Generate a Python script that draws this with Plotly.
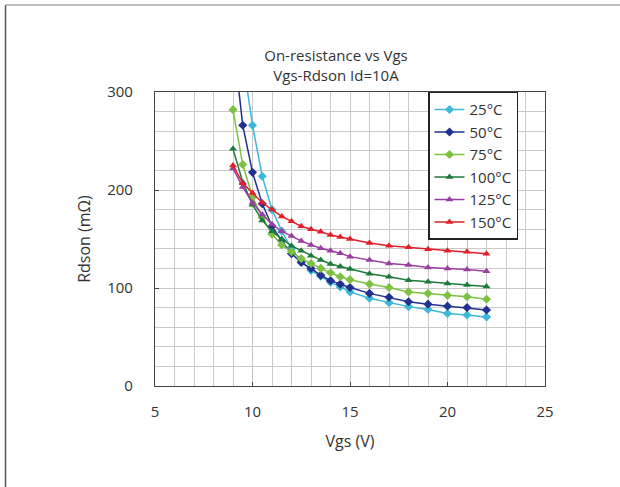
import plotly.graph_objects as go

vgs = [9, 9.5, 10, 10.5, 11, 11.5, 12, 12.5, 13, 13.5, 14, 14.5, 15, 16, 17, 18, 19, 20, 21, 22]

r_25 = [None, 334, 266, 214, 180, 158, 140, 127, 118, 112, 106, 101, 96, 89.5, 85, 81, 78, 74, 72.5, 70.5]
r_50 = [355, 266, 218, 186, 163, 148, 135, 126, 120, 113, 107.5, 104, 100.5, 94.5, 90.5, 86, 83.5, 81.5, 80, 77.5]
r_75 = [282, 226, 193, 172, 155, 144, 137, 130, 125, 120, 115.5, 111.5, 108.5, 104, 100.5, 96, 94.5, 92.5, 91, 88.5]
r_100 = [242, 208, 185, 169, 158, 150, 143, 138, 133, 128.5, 124.5, 122, 119.5, 114.5, 111.5, 108, 106.5, 104.5, 103, 101.5]
r_125 = [222, 203, 187, 175, 165, 158, 153, 148, 144, 140.5, 138, 135.5, 132, 128.5, 125, 123.5, 121, 120, 119, 117]
r_150 = [225, 207, 197, 187, 180, 173, 168, 163, 160, 157.5, 154, 152, 150, 146, 143, 141.5, 139.5, 138, 137, 135]

series_names = ["25°C", "50°C", "75°C", "100°C", "125°C", "150°C"]
series_vals = [r_25, r_50, r_75, r_100, r_125, r_150]
colors = ["#3db8d6", "#22318f", "#7cc142", "#1d7a3a", "#9a3fa2", "#e01f2b"]
symbols = ["diamond", "diamond", "diamond", "triangle-up", "triangle-up", "triangle-up"]

FONT = "Open Sans"
W, H = 620, 487

fig = go.Figure()
for name, vals, c, s in zip(series_names, series_vals, colors, symbols):
    fig.add_trace(go.Scatter(
        x=vgs, y=vals, name=name, mode="lines+markers",
        line=dict(color=c, width=1.5),
        marker=dict(symbol=s, size=7, color=c),
    ))

L, R, T, B = 155, 545, 92.3, 385.7
def px(xp): return (xp - L) / (R - L)
def py(yp): return (B - yp) / (B - T)

# outer frame edges of the picture (left and top)
fig.add_shape(type="line", xref="paper", yref="paper",
              x0=px(5.5), x1=px(5.5), y0=py(487), y1=py(5.5),
              line=dict(color="#555555", width=1.5), layer="below")
fig.add_shape(type="line", xref="paper", yref="paper",
              x0=px(5.5), x1=px(620), y0=py(5.5), y1=py(5.5),
              line=dict(color="#aaaaaa", width=1.5), layer="below")

fig.update_layout(
    width=W, height=H,
    margin=dict(l=L, r=W - R, t=T, b=H - B),
    paper_bgcolor="white", plot_bgcolor="white",
    font=dict(family=FONT, size=14, color="#333333"),
    title=dict(text="On-resistance vs Vgs<br>Vgs-Rdson Id=10A",
               x=336 / W, xref="container", xanchor="center",
               y=1 - 61 / H, yref="container", yanchor="middle",
               font=dict(size=15, color="#333333")),
    showlegend=True,
    legend=dict(x=px(428), y=py(92), xanchor="left", yanchor="top",
                bgcolor="white", bordercolor="#222222", borderwidth=1.5,
                font=dict(size=15, color="#333333"),
                tracegroupgap=0, itemwidth=30),
    xaxis=dict(range=[5, 25], dtick=5, tick0=5,
               showgrid=True, gridcolor="#c9c9c9", gridwidth=1,
               minor=dict(dtick=1, showgrid=True, gridcolor="#c9c9c9", gridwidth=1),
               showline=True, linecolor="#444444", linewidth=1.2, mirror=True,
               ticks="inside", ticklen=4, tickcolor="#444444",
               ticklabelstandoff=12, zeroline=False, tickfont=dict(size=15),
               title=dict(text="Vgs (V)", standoff=15, font=dict(size=16))),
    yaxis=dict(range=[0, 300], dtick=100,
               showgrid=True, gridcolor="#c9c9c9", gridwidth=1,
               minor=dict(dtick=20, showgrid=True, gridcolor="#c9c9c9", gridwidth=1),
               showline=True, linecolor="#444444", linewidth=1.2, mirror=True,
               ticks="inside", ticklen=4, tickcolor="#444444",
               ticklabelstandoff=18, zeroline=False, tickfont=dict(size=15),
               title=dict(text="Rdson (mΩ)", standoff=12, font=dict(size=16))),
)

fig.write_html("out.html", config={"displayModeBar": False},
               post_script="document.body.style.margin='0px';document.body.style.padding='0px';")
